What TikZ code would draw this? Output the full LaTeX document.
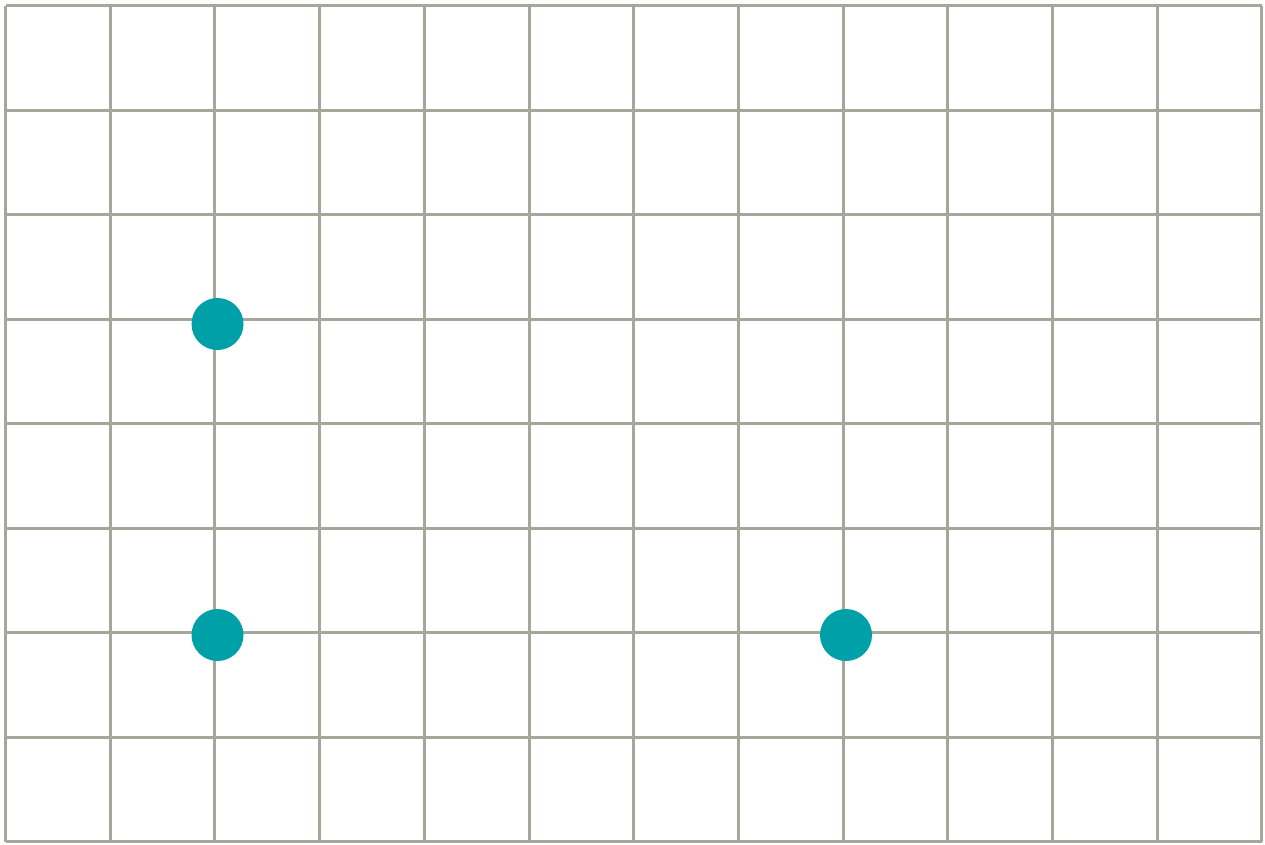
\documentclass[tikz,border=0pt]{standalone}
\usepackage{xcolor}
\definecolor{gridgray}{HTML}{A6A69A}
\definecolor{dotteal}{HTML}{00A0A8}
\begin{document}
\begin{tikzpicture}[x=1pt,y=-1pt,
  gridline/.style={draw=gridgray,line width=3pt},
  dotnode/.style={circle,fill=dotteal,inner sep=0pt,minimum size=52pt}]
\useasboundingbox (0,0) rectangle (1265,844);
\fill[white] (0,0) rectangle (1265,844);
\foreach \i in {0,...,12}{
  \draw[gridline] ({5.5+\i*104.7},5.5) -- ({5.5+\i*104.7},841.5);
}
\foreach \j in {0,...,8}{
  \draw[gridline] (5.5,{5.5+\j*104.5}) -- (1261.9,{5.5+\j*104.5});
}
\node[dotnode] (d1) at (217.5,324) {};
\node[dotnode] (d2) at (217.5,635) {};
\node[dotnode] (d3) at (846,635) {};
\end{tikzpicture}
\end{document}
